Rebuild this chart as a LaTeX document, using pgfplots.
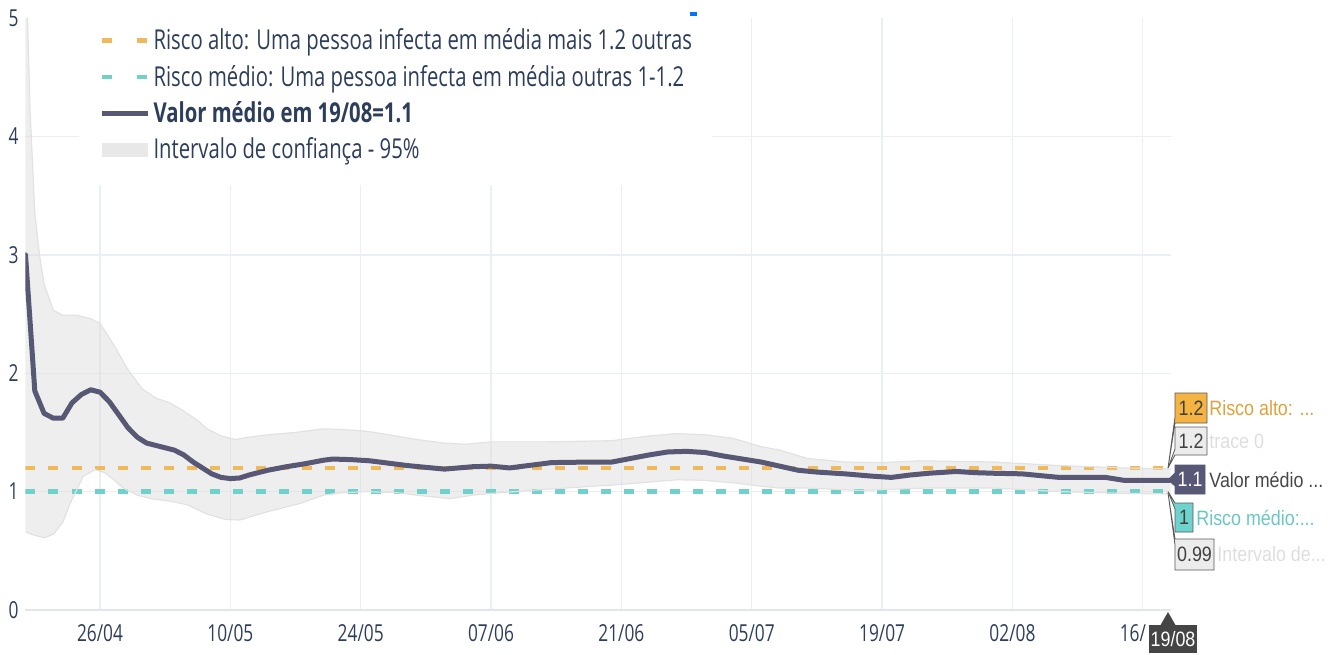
\documentclass[border=0pt]{standalone}
\usepackage{pgfplots}
\usepackage{pgfplotstable}
\pgfplotsset{compat=1.18}
\usepgfplotslibrary{fillbetween}
\usepackage{fontspec}
\setmainfont{Open Sans}[FakeStretch=0.74]
\newfontfamily\hoverfont{Liberation Sans}[FakeStretch=0.86]

\definecolor{riscoalto}{RGB}{238,186,92}
\definecolor{riscomedio}{RGB}{112,208,202}
\definecolor{valor}{RGB}{88,88,116}
\definecolor{bandfill}{RGB}{222,222,222}
\definecolor{bandedge}{RGB}{226,226,226}
\definecolor{gridc}{RGB}{234,238,245}
\definecolor{zeroc}{RGB}{224,229,238}
\definecolor{txt}{RGB}{45,62,90}
\definecolor{boxorange}{RGB}{245,180,65}
\definecolor{boxgrey}{RGB}{236,236,236}
\definecolor{boxdark}{RGB}{88,88,118}
\definecolor{boxteal}{RGB}{110,210,205}
\definecolor{lbltxtgrey}{RGB}{222,222,222}

% day 0 = 26/04
\pgfplotstableread{
d v
-8 3.00
-7 1.85
-6 1.66
-5 1.62
-4 1.62
-3 1.75
-2 1.82
-1 1.86
0 1.84
1 1.76
2 1.65
3 1.54
4 1.46
5 1.41
6 1.39
7 1.37
8 1.35
9 1.31
10 1.25
11 1.20
12 1.15
13 1.12
14 1.11
15 1.115
16 1.14
17 1.16
18 1.18
20 1.21
22 1.235
24 1.265
25 1.275
27 1.27
29 1.26
31 1.24
33 1.22
35 1.205
37 1.19
40 1.21
42 1.215
44 1.20
46 1.22
48.5 1.245
53 1.25
55 1.25
57 1.28
59 1.31
61 1.335
63 1.34
65 1.33
67 1.30
69 1.275
71 1.25
73 1.215
75 1.18
77 1.165
80 1.15
83 1.13
85 1.12
87 1.14
89 1.155
92 1.17
94 1.16
96 1.155
99 1.15
101 1.135
103 1.12
108 1.12
110 1.095
115 1.095
}\valordata

\pgfplotstableread{
d v
-8 5.60
-7.5 4.20
-7 3.35
-6.5 3.00
-6 2.75
-5 2.53
-4 2.49
-2.5 2.49
-1 2.46
0 2.42
1.4 2.25
3 2.03
4.5 1.87
6 1.79
7.5 1.75
9 1.68
10.5 1.60
11.5 1.53
13 1.47
14.5 1.44
16 1.46
18 1.48
21 1.50
24 1.53
26 1.525
28.6 1.51
31 1.48
34 1.44
37 1.41
39.4 1.40
42 1.42
48 1.42
55 1.43
59 1.47
62 1.49
65 1.48
68 1.45
71 1.38
73 1.35
76 1.28
80 1.25
84 1.245
88 1.26
96 1.25
103 1.22
110 1.20
115 1.19
}\upperdata

\pgfplotstableread{
d v
-8 0.66
-7 0.63
-6 0.61
-5 0.64
-4 0.74
-3.2 0.90
-1.8 1.13
-0.5 1.185
0.5 1.16
1.5 1.10
2.5 1.03
4 0.97
5.5 0.94
7.5 0.92
9.3 0.89
11.5 0.81
13.5 0.765
15 0.76
18 0.83
21.5 0.90
24 0.97
26 0.99
28.6 1.00
32 0.99
34 0.97
37.6 0.94
40 0.97
42 0.985
48 1.02
55 1.055
59 1.08
62 1.10
65 1.095
68 1.075
71 1.045
73 1.03
76 1.03
81.6 1.01
88.8 1.03
96 1.03
103 1.00
110 0.985
115 0.98
}\lowerdata

\begin{document}
\begin{tikzpicture}
\begin{axis}[
  at={(0,0)}, anchor=south west,
  scale only axis, width=572.6pt, height=296pt,
  xmin=-8, xmax=115, ymin=0, ymax=5,
  axis line style={draw=none},
  major tick length=0pt,
  xtick={0,14,28,42,56,70,84,98,112},
  xticklabels={26/04,10/05,24/05,07/06,21/06,05/07,19/07,02/08,16/\phantom{08}},
  ytick={0,1,2,3,4},
  extra y ticks={5}, extra y tick labels={5},
  extra y tick style={grid=none},
  grid=major,
  major grid style={color=gridc, line width=0.7pt},
  /pgf/number format/assume math mode=true,
  tick label style={font=\fontsize{11.7}{14}\selectfont, text=txt},
  xticklabel style={yshift=-3.5pt},
  legend cell align=left,
  legend style={at={(axis description cs:0.046,1.0215)}, anchor=north west,
    draw=none, fill=white, inner xsep=8pt, inner ysep=9.5pt,
    font=\fontsize{13.7}{16}\selectfont, text=txt, row sep=2.2pt,
    /tikz/every odd column/.append style={column sep=-2.5pt}},
  legend image code/.code={\draw[#1] (0pt,0pt) -- (23pt,0pt);},
]
\addlegendimage{riscoalto, line width=2.2pt, dash pattern=on 5pt off 12.5pt}
\addlegendimage{riscomedio, line width=2.2pt, dash pattern=on 5pt off 12.5pt}
\addlegendimage{valor, line width=2.4pt}
\addlegendimage{color=bandfill!70!white, line width=7pt}

\draw[zeroc, line width=1.2pt] (axis cs:-8,0) -- (axis cs:115,0);

\addplot[riscoalto, line width=2.2pt, dash pattern=on 5pt off 6.5pt, forget plot] coordinates {(-8,1.2) (115,1.2)};
\addplot[riscomedio, line width=2.2pt, dash pattern=on 5pt off 6.5pt, forget plot] coordinates {(-8,1.0) (115,1.0)};

\addplot[name path=up, draw=bandedge, line width=0.6pt, forget plot] table[x=d, y=v] {\upperdata};
\addplot[name path=lo, draw=bandedge, line width=0.6pt, forget plot] table[x=d, y=v] {\lowerdata};
\addplot[fill=bandfill, fill opacity=0.5, draw=none, forget plot] fill between[of=up and lo];

\addplot[valor, line width=2.5pt, line join=round, line cap=round, forget plot] table[x=d, y=v] {\valordata};

\legend{Risco alto: Uma pessoa infecta em média mais 1.2 outras,
        Risco médio: Uma pessoa infecta em média outras 1-1.2,
        \textbf{Valor médio em 19/08=1.1},
        Intervalo de confiança - 95\%}
\end{axis}

% hover labels, drawn in image-pixel coordinates
\begin{scope}[x=0.5pt, y=-0.5pt, shift={(-12.75pt,305pt)}, font=\hoverfont\fontsize{10.4}{12}\selectfont]
  \fill[blue!55!cyan] (690,12) rectangle (697,16);
  % orange 1.2
  \filldraw[fill=boxorange, draw=black!65, line width=0.4pt]
    (1168,468) -- (1175,417) -- (1175,393) -- (1207,393) -- (1207,423) -- (1175,423) -- cycle;
  \node[text=black!75] at (1191,408) {1.2};
  \node[anchor=west, text=boxorange!90!black, inner sep=0pt] at (1209,408) {Risco alto: ...};
  % grey 1.2 (trace 0)
  \filldraw[fill=boxgrey, draw=black!65, line width=0.4pt]
    (1168,468) -- (1175,449) -- (1175,427) -- (1207,427) -- (1207,455) -- (1175,455) -- cycle;
  \node[text=black!75] at (1191,441) {1.2};
  \node[anchor=west, text=lbltxtgrey, inner sep=0pt] at (1209,441) {trace 0};
  % dark 1.1
  \filldraw[fill=boxdark, draw=boxdark, line width=0.4pt]
    (1168,479.8) -- (1175,473) -- (1175,465) -- (1205,465) -- (1205,494) -- (1175,494) -- (1175,486) -- cycle;
  \node[text=white] at (1190,479.5) {1.1};
  \node[anchor=west, text=black!72, inner sep=0pt] at (1209,479.5) {Valor médio ...};
  % teal 1
  \filldraw[fill=boxteal, draw=black!65, line width=0.4pt]
    (1168,491.6) -- (1175,509) -- (1175,532) -- (1193,532) -- (1193,503) -- (1175,503) -- cycle;
  \node[text=black!75] at (1184,517.5) {1};
  \node[anchor=west, text=boxteal!95!black, inner sep=0pt] at (1196,517.5) {Risco médio:...};
  % grey 0.99
  \filldraw[fill=boxgrey, draw=black!65, line width=0.4pt]
    (1168,492.8) -- (1175,545) -- (1175,570) -- (1214,570) -- (1214,539) -- (1175,539) -- cycle;
  \node[text=black!75] at (1194.5,554.5) {0.99};
  \node[anchor=west, text=lbltxtgrey, inner sep=0pt] at (1217,554.5) {Intervalo de...};
  % x hover 19/08
  \fill[black!73] (1160,626) -- (1168,612) -- (1176,626) -- cycle;
  \fill[black!73] (1149,625) rectangle (1197,653);
  \node[text=white] at (1173,639.5) {19/08};
\end{scope}

\pgfresetboundingbox
\path[use as bounding box] (-12.75pt,-22pt) rectangle (653.25pt,305pt);
\end{tikzpicture}
\end{document}
